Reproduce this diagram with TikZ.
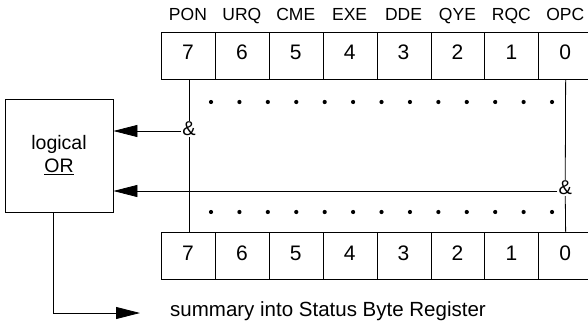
\documentclass[tikz,border=0pt]{standalone}
\usepackage{fontspec}
\setmainfont{Liberation Sans}
\usetikzlibrary{arrows.meta}
\tikzset{
  cell/.style={draw, line width=0.8pt, minimum width=53.9pt, minimum height=47pt, inner sep=0pt, anchor=north west},
  digit/.style={font=\fontsize{21}{25}\selectfont, anchor=base},
  lbl/.style={font=\fontsize{17.5}{20}\selectfont, anchor=base},
  amp/.style={font=\fontsize{20}{22}\selectfont, fill=white, inner sep=1pt},
  wire/.style={line width=0.8pt},
  arr/.style={line width=0.8pt, -{Triangle[length=24pt,width=12pt]}},
  dotm/.style={circle, fill, inner sep=0pt, minimum size=4.2pt},
}
\begin{document}
\begin{tikzpicture}[x=1pt,y=-1pt]
\useasboundingbox (0,0) rectangle (588,326);
% registers
\foreach \i/\n [count=\k from 0] in {7/PON,6/URQ,5/CME,4/EXE,3/DDE,2/QYE,1/RQC,0/OPC}{
  \node[cell] (t\i) at ({161+\k*53.9},32) {};
  \node[cell] (b\i) at ({161+\k*53.9},232) {};
  \node[digit] (td\i) at ({161+\k*53.9+26.95},60) {\i};
  \node[digit] (bd\i) at ({161+\k*53.9+26.95},260) {\i};
  \node[lbl] (l\i) at ({161+\k*53.9+26.95},21) {\n};
}
% dots
\foreach \j in {0,...,12}{
  \node[dotm] (du\j) at ({211+\j*28.42},102) {};
  \node[dotm] (dl\j) at ({211+\j*28.42},212) {};
}
% logical OR box
\node[draw, line width=0.8pt, minimum width=108pt, minimum height=113pt, inner sep=0pt,
      align=center, font=\fontsize{19.5}{23}\selectfont] (or) at (59,155.5) {logical\\\underline{OR}};
% & nodes
\node[amp] (a7) at (189,129) {\&};
\node[amp] (a0) at (565.25,188) {\&};
\draw[wire] (t7.south -| a7) -- (a7.north);
\draw[wire] (a7.south) -- (b7.north -| a7);
\draw[wire] (t0.south) -- (a0.north);
\draw[wire] (a0.south) -- (b0.north);
\draw[arr] ([yshift=-2pt]a7.west) -- ([yshift=-2pt]a7.west -| or.east);
\draw[arr] ([yshift=-3pt]a0.west) -- ([yshift=-3pt]a0.west -| or.east);
% output
\coordinate (tip) at (140,313);
\draw[arr] ([xshift=-6pt]or.south) |- (tip);
\node[font=\fontsize{20.5}{24}\selectfont, anchor=base west, inner sep=0pt] (sum) at (170,316) {summary into Status Byte Register};
\end{tikzpicture}
\end{document}
